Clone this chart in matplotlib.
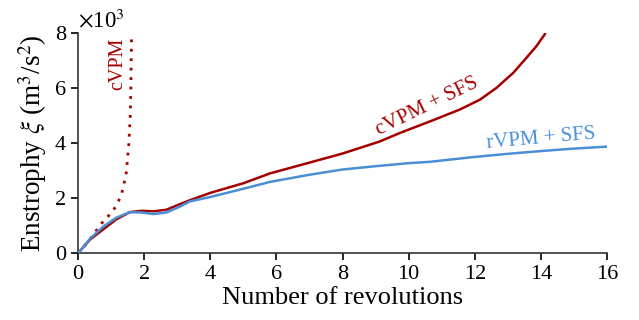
import matplotlib
matplotlib.use("Agg")
import matplotlib.pyplot as plt

# Enstrophy histories (in units of 1e3 m^3/s^2) vs. number of revolutions
rvpm_sfs_x = [0, 0.36, 0.76, 1.16, 1.57, 1.92, 2.28, 2.68, 3.08, 3.38, 4, 5, 5.81, 7, 8, 9, 10, 10.65, 11.86, 13, 14, 15, 16]
rvpm_sfs_y = [0, 0.53, 0.97, 1.30, 1.50, 1.49, 1.43, 1.49, 1.70, 1.89, 2.05, 2.35, 2.60, 2.86, 3.05, 3.17, 3.28, 3.33, 3.49, 3.62, 3.72, 3.81, 3.88]

cvpm_sfs_x = [0, 0.36, 0.76, 1.16, 1.57, 1.92, 2.28, 2.68, 3.08, 3.38, 4, 5, 5.81, 7, 8, 9.13, 9.74, 10.65, 11.55, 12.16, 12.66, 13.17, 13.57, 13.87, 14.12]
cvpm_sfs_y = [0, 0.50, 0.87, 1.24, 1.50, 1.55, 1.53, 1.59, 1.79, 1.93, 2.20, 2.55, 2.91, 3.30, 3.63, 4.07, 4.38, 4.80, 5.23, 5.59, 6.02, 6.57, 7.12, 7.54, 7.97]

cvpm_x = [0, 0.35, 0.70, 0.82, 0.95, 1.07, 1.17, 1.25, 1.32, 1.40, 1.46, 1.54, 1.58, 1.60, 1.61, 1.62]
cvpm_y = [0, 0.50, 1.07, 1.24, 1.40, 1.58, 1.74, 1.97, 2.16, 2.58, 2.92, 4.00, 5.00, 6.00, 7.00, 7.93]

x_ticks = [0, 2, 4, 6, 8, 10, 12, 14, 16]
y_ticks = [0, 2, 4, 6, 8]

RED = "#A50000"
BLUE = "#4A8FD6"

plt.rcParams["font.family"] = ["Liberation Serif", "DejaVu Serif"]
plt.rcParams["mathtext.fontset"] = "stix"

fig = plt.figure(figsize=(6.39, 3.2), dpi=100)
ax = fig.add_axes([0.122, 0.208, 0.828, 0.688])

ax.plot(cvpm_x, cvpm_y, color=RED, lw=2.0, linestyle=(0, (1, 2.4)), zorder=2)
ax.plot(cvpm_sfs_x, cvpm_sfs_y, color=RED, lw=1.8, zorder=3)
ax.plot(rvpm_sfs_x, rvpm_sfs_y, color=BLUE, lw=1.8, zorder=4)

ax.set_xlim(0, 16)
ax.set_ylim(0, 8)
ax.set_xticks(x_ticks)
ax.set_yticks(y_ticks)
ax.tick_params(labelsize=16, width=1.2, length=5, direction="out")
for side in ("top", "right"):
    ax.spines[side].set_visible(False)
for side in ("left", "bottom"):
    ax.spines[side].set_linewidth(1.2)
    ax.spines[side].set_color("#333333")

ax.set_xlabel("Number of revolutions", fontsize=19, labelpad=2)
ax.set_ylabel(r"Enstrophy $\xi$ (m$^3$/s$^2$)", fontsize=19.5, labelpad=4)
ax.text(0.0, 1.005, r"$\times$10$^3$", transform=ax.transAxes, fontsize=16.5,
        ha="left", va="bottom")

ax.text(1.21, 6.9, "cVPM", color=RED, fontsize=14.5, rotation=90, ha="center", va="center")
ax.text(10.55, 5.35, "cVPM + SFS", color=RED, fontsize=15, rotation=26, ha="center", va="center",
        rotation_mode="anchor")
ax.text(14.0, 4.18, "rVPM + SFS", color=BLUE, fontsize=15, rotation=5, ha="center", va="center",
        rotation_mode="anchor")

fig.savefig("out.png", dpi=100)
